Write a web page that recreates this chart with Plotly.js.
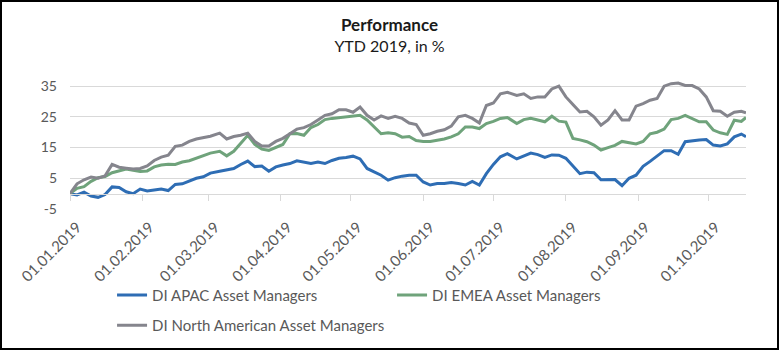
<!DOCTYPE html>
<html>
<head>
<meta charset="utf-8">
<script src="https://cdn.plot.ly/plotly-3.0.1.min.js"></script>
<style>
  html, body { margin: 0; padding: 0; background: #fff; }
  #frame { width: 779px; height: 350px; box-sizing: border-box; border: 2px solid #000; overflow: hidden; }
  #chart { width: 775px; height: 346px; }
</style>
</head>
<body>
<div id="frame"><div id="chart"></div></div>
<script>
// Dates
const dates = [
 "2019-01-01","2019-01-04","2019-01-07","2019-01-10","2019-01-13","2019-01-16","2019-01-19","2019-01-22","2019-01-25","2019-01-28",
 "2019-01-31","2019-02-03","2019-02-06","2019-02-09","2019-02-12","2019-02-15","2019-02-18","2019-02-21","2019-02-24","2019-02-27",
 "2019-03-02","2019-03-06","2019-03-09","2019-03-12","2019-03-15","2019-03-18","2019-03-21","2019-03-24","2019-03-27","2019-03-30",
 "2019-04-02","2019-04-05","2019-04-08","2019-04-11","2019-04-14","2019-04-17","2019-04-20","2019-04-23","2019-04-26","2019-04-29",
 "2019-05-02","2019-05-05","2019-05-08","2019-05-11","2019-05-14","2019-05-17","2019-05-20","2019-05-23","2019-05-26","2019-05-29",
 "2019-06-01","2019-06-04","2019-06-07","2019-06-10","2019-06-13","2019-06-16","2019-06-19","2019-06-22","2019-06-25","2019-06-28",
 "2019-07-01","2019-07-04","2019-07-07","2019-07-11","2019-07-14","2019-07-17","2019-07-20","2019-07-23","2019-07-26","2019-07-29",
 "2019-08-01","2019-08-04","2019-08-07","2019-08-10","2019-08-13","2019-08-16","2019-08-19","2019-08-22","2019-08-25","2019-08-28",
 "2019-08-31","2019-09-03","2019-09-06","2019-09-09","2019-09-12","2019-09-15","2019-09-18","2019-09-21","2019-09-24","2019-09-27",
 "2019-09-30","2019-10-03","2019-10-06","2019-10-09","2019-10-12","2019-10-15","2019-10-17"
];

const apac = [
 0, -0.4, 0.5, -0.8, -1.2, -0.3, 2.2, 2.0, 0.6, 0,
 1.5, 0.9, 1.2, 1.5, 1.0, 3.0, 3.2, 4.0, 5.0, 5.5,
 6.7, 7.3, 7.8, 8.2, 9.5, 10.6, 8.8, 9.0, 7.3, 8.7,
 9.3, 9.8, 10.7, 10.3, 9.8, 10.3, 9.8, 10.8, 11.5, 11.8,
 12.2, 11.3, 8.2, 7.1, 6.0, 4.4, 5.2, 5.7, 6.0, 6.0,
 3.8, 2.8, 3.3, 3.3, 3.6, 3.3, 2.8, 4.0, 2.8, 6.5,
 9.5, 12.0, 13.0, 11.3, 12.3, 13.2, 12.7, 11.8, 12.6, 12.5,
 11.5, 9.0, 6.5, 7.0, 6.8, 4.5, 4.5, 4.6, 2.6, 5.0,
 6.0, 8.9, 10.5, 12.2, 14.0, 14.0, 12.8, 16.9, 17.3, 17.5,
 17.6, 15.8, 15.5, 16.2, 18.5, 19.4, 18.5
];

const emea = [
 0, 1.7, 2.3, 4.0, 5.2, 5.6, 6.8, 7.4, 8.0, 7.6,
 7.2, 7.4, 8.7, 9.3, 9.6, 9.5, 10.3, 10.7, 11.5, 12.5,
 13.2, 13.8, 12.3, 13.8, 16.5, 19.0, 16.0, 14.5, 14.1, 15.0,
 16.0, 19.5, 19.6, 19.0, 21.5, 22.5, 24.1, 24.5, 24.8, 25.0,
 25.3, 25.5, 24.0, 21.7, 19.5, 19.8, 19.5, 18.4, 18.6, 17.3,
 17.0, 17.0, 17.3, 17.8, 18.5, 19.5, 21.7, 21.7, 21.2, 22.8,
 23.5, 24.5, 24.8, 22.8, 24.1, 24.5, 24.0, 23.4, 25.2, 23.6,
 23.3, 18.0, 17.5, 16.9, 15.8, 14.2, 15.0, 15.7, 17.0, 16.5,
 16.2, 17.0, 19.5, 20.0, 21.0, 24.1, 24.5, 25.5, 24.5, 23.4,
 23.4, 20.7, 19.8, 19.3, 23.9, 23.5, 24.8
];

const northAmerica = [
 0, 3.2, 4.5, 5.4, 5.0, 5.8, 9.5, 8.6, 8.3, 8.0,
 8.2, 9.0, 10.8, 11.9, 12.5, 15.4, 15.8, 17.0, 17.8, 18.3,
 18.7, 19.7, 17.8, 18.6, 19.0, 19.7, 17.0, 15.5, 15.5, 17.0,
 18.0, 19.5, 21.0, 21.5, 22.5, 24.0, 25.5, 26.0, 27.3, 27.3,
 26.5, 28.2, 25.5, 24.0, 25.3, 24.5, 25.2, 24.5, 23.0, 22.5,
 19.0, 19.5, 20.3, 20.8, 22.0, 25.0, 25.5, 24.5, 23.0, 28.7,
 29.5, 32.5, 33.0, 32.0, 32.5, 31.0, 31.5, 31.5, 34.1, 35.0,
 31.5, 29.0, 26.6, 26.8, 25.0, 22.3, 24.0, 27.0, 24.0, 24.0,
 28.5, 29.3, 30.4, 31.0, 35.0, 35.8, 36.0, 35.2, 35.2, 34.1,
 31.5, 27.0, 26.8, 25.2, 26.5, 26.8, 26.3
];

const seriesNames = ["DI APAC Asset Managers", "DI EMEA Asset Managers", "DI North American Asset Managers"];
const seriesColors = ["#2E6DB4", "#6FA37B", "#85858D"];
const seriesLegends = ["legend", "legend", "legend2"];
const yTicks = [-5, 5, 15, 25, 35];

const traces = [apac, emea, northAmerica].map((vals, i) => ({
  type: "scatter",
  mode: "lines",
  x: dates,
  y: vals,
  name: seriesNames[i],
  legend: seriesLegends[i],
  line: { color: seriesColors[i], width: 3 },
  hoverinfo: "skip"
}));

const legendBase = {
  orientation: "h",
  xref: "container", yref: "container",
  x: 0.142, xanchor: "left",
  yanchor: "top",
  entrywidthmode: "pixels",
  font: { family: "Lato, sans-serif", size: 15, color: "#595959" },
  bgcolor: "rgba(0,0,0,0)"
};

const layout = {
  width: 775,
  height: 346,
  margin: { l: 68, r: 31, t: 77.85, b: 139 },
  paper_bgcolor: "#ffffff",
  plot_bgcolor: "#ffffff",
  font: { family: "Lato, 'Open Sans', sans-serif", color: "#595959", size: 14 },
  title: {
    text: "<b style='font-size:17px'>Performance</b><br>YTD 2019, in %",
    font: { family: "Lato, sans-serif", size: 16, color: "#1a1a1a" },
    x: 0.5, xanchor: "center",
    yref: "container", y: 0.915, yanchor: "middle"
  },
  xaxis: {
    type: "date",
    range: ["2019-01-01", "2019-10-17"],
    tick0: "2019-01-01",
    dtick: "M1",
    tickformat: "%d.%m.%Y",
    tickangle: -45,
    showgrid: false,
    zeroline: false,
    anchor: "free",
    position: 5 / 42,
    showline: true,
    linecolor: "#d9d9d9",
    linewidth: 1,
    ticks: "outside",
    ticklen: 6,
    tickcolor: "#d9d9d9",
    ticklabelstandoff: 12,
    ticklabelshift: 7,
    tickfont: { size: 15, color: "#595959" },
    fixedrange: true
  },
  yaxis: {
    range: [-5, 37],
    tickvals: yTicks,
    ticktext: yTicks.map(String),
    showgrid: true,
    gridcolor: "#d9d9d9",
    gridwidth: 1,
    zeroline: false,
    showline: false,
    ticks: "",
    ticklabelstandoff: 12,
    tickfont: { size: 14, color: "#595959" },
    fixedrange: true
  },
  showlegend: true,
  legend: Object.assign({}, legendBase, { y: 0.2, entrywidth: 235 }),
  legend2: Object.assign({}, legendBase, { y: 0.1127, entrywidth: 300 })
};

Plotly.newPlot("chart", traces, layout, { displayModeBar: false, staticPlot: true });
</script>
</body>
</html>
